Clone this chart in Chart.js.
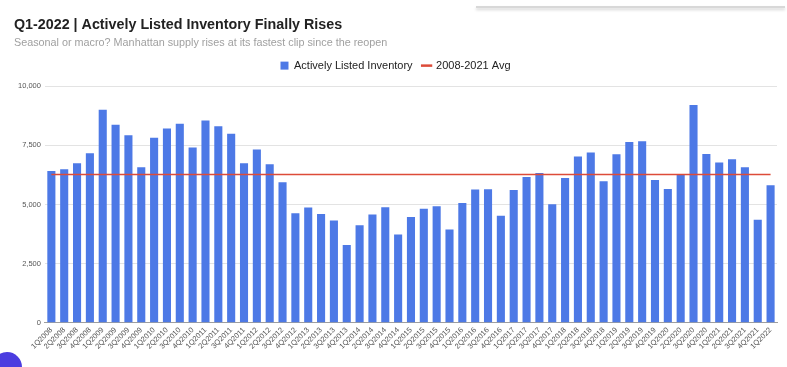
<!DOCTYPE html>
<html>
<head>
<meta charset="utf-8">
<script src="https://cdn.jsdelivr.net/npm/chart.js@4"></script>
<style>
  html, body { margin: 0; padding: 0; background: #fff; }
  #wrap { position: relative; width: 787px; height: 367px; overflow: hidden; }
  #topBar { position: absolute; left: 476px; top: 6px; width: 309px; height: 2px;
            background: #d8d8d8; box-shadow: 0 2px 3px rgba(0,0,0,0.18); }
  #blob { position: absolute; left: -8px; top: 352px; width: 30px; height: 30px;
          border-radius: 50%; background: #4b3de0; }
</style>
</head>
<body>
<div id="wrap">
  <canvas id="chart" width="787" height="367"></canvas>
  <div id="topBar"></div>
  <div id="blob"></div>
</div>
<script>
// quarters 1Q2008 .. 1Q2022
const quarters = [
  '1Q2008','2Q2008','3Q2008','4Q2008','1Q2009','2Q2009','3Q2009','4Q2009',
  '1Q2010','2Q2010','3Q2010','4Q2010','1Q2011','2Q2011','3Q2011','4Q2011',
  '1Q2012','2Q2012','3Q2012','4Q2012','1Q2013','2Q2013','3Q2013','4Q2013',
  '1Q2014','2Q2014','3Q2014','4Q2014','1Q2015','2Q2015','3Q2015','4Q2015',
  '1Q2016','2Q2016','3Q2016','4Q2016','1Q2017','2Q2017','3Q2017','4Q2017',
  '1Q2018','2Q2018','3Q2018','4Q2018','1Q2019','2Q2019','3Q2019','4Q2019',
  '1Q2020','2Q2020','3Q2020','4Q2020','1Q2021','2Q2021','3Q2021','4Q2021',
  '1Q2022'
];

const inventory = [
  6410, 6490, 6740, 7160,  9000, 8370, 7920, 6570,
  7820, 8210, 8410, 7410,  8550, 8300, 7990, 6740,
  7320, 6700, 5940, 4630,  4870, 4600, 4320, 3290,
  4120, 4570, 4880, 3730,  4470, 4820, 4920, 3940,
  5060, 5630, 5640, 4520,  5610, 6160, 6330, 5010,
  6120, 7030, 7200, 5980,  7120, 7640, 7670, 6030,
  5650, 6260, 9200, 7130,  6770, 6910, 6570, 4350,
  5810
];

const avgValue = 6260; // 2008-2021 average
const avgLine = quarters.map(() => avgValue);

const yTicks = [0, 2500, 5000, 7500, 10000];

const blue = '#4d79e6';
const red = '#dd4b39';

// a bit of air between the legend and the plot
const legendGap = {
  id: 'legendGap',
  beforeInit(chart) {
    const fit = chart.legend.fit;
    chart.legend.fit = function () {
      fit.bind(chart.legend)();
      this.height += 5;
    };
  }
};

new Chart(document.getElementById('chart'), {
  data: {
    labels: quarters,
    datasets: [
      {
        type: 'line',
        label: '2008-2021 Avg',
        data: avgLine,
        borderColor: red,
        backgroundColor: red,
        borderWidth: 1.5,
        pointRadius: 0,
        pointStyle: 'line',
        order: 0
      },
      {
        type: 'bar',
        label: 'Actively Listed Inventory',
        data: inventory,
        backgroundColor: blue,
        borderWidth: 0,
        barPercentage: 0.63,
        categoryPercentage: 1,
        pointStyle: 'rect',
        order: 1
      }
    ]
  },
  plugins: [legendGap],
  options: {
    responsive: false,
    animation: false,
    layout: { padding: { top: 16, left: 14, right: 10, bottom: 13 } },
    plugins: {
      title: {
        display: true,
        text: 'Q1-2022 | Actively Listed Inventory Finally Rises',
        align: 'start',
        color: '#222',
        font: { family: 'Liberation Sans, Arial, sans-serif', size: 14.3, weight: 'bold' },
        padding: { top: 0, bottom: 3 }
      },
      subtitle: {
        display: true,
        text: 'Seasonal or macro? Manhattan supply rises at its fastest clip since the reopen',
        align: 'start',
        color: '#a0a0a0',
        font: { family: 'Liberation Sans, Arial, sans-serif', size: 10.8 },
        padding: { top: 0, bottom: 1 }
      },
      legend: {
        display: true,
        reverse: true,
        labels: {
          usePointStyle: true,
          boxWidth: 8,
          boxHeight: 8,
          padding: 10,
          color: '#222',
          font: { family: 'Liberation Sans, Arial, sans-serif', size: 11 },
          generateLabels(chart) {
            const items = Chart.defaults.plugins.legend.labels.generateLabels(chart);
            items.forEach(it => {
              if (it.pointStyle === 'line') { it.lineWidth = 2.5; it.strokeStyle = red; }
            });
            return items;
          }
        }
      },
      tooltip: { enabled: false }
    },
    scales: {
      x: {
        grid: { display: false, drawTicks: false },
        border: { display: true, color: '#9e9e9e' },
        ticks: {
          autoSkip: false,
          minRotation: 45,
          maxRotation: 45,
          padding: 3,
          color: '#555',
          font: { family: 'Liberation Sans, Arial, sans-serif', size: 7.5 }
        }
      },
      y: {
        min: 0,
        max: 10000,
        afterBuildTicks(axis) { axis.ticks = yTicks.map(v => ({ value: v })); },
        grid: { color: '#e3e3e3', drawTicks: false },
        border: { display: false },
        ticks: {
          padding: 4,
          color: '#555',
          font: { family: 'Liberation Sans, Arial, sans-serif', size: 7.5 },
          callback: v => v.toLocaleString('en-US')
        }
      }
    }
  }
});
</script>
</body>
</html>
